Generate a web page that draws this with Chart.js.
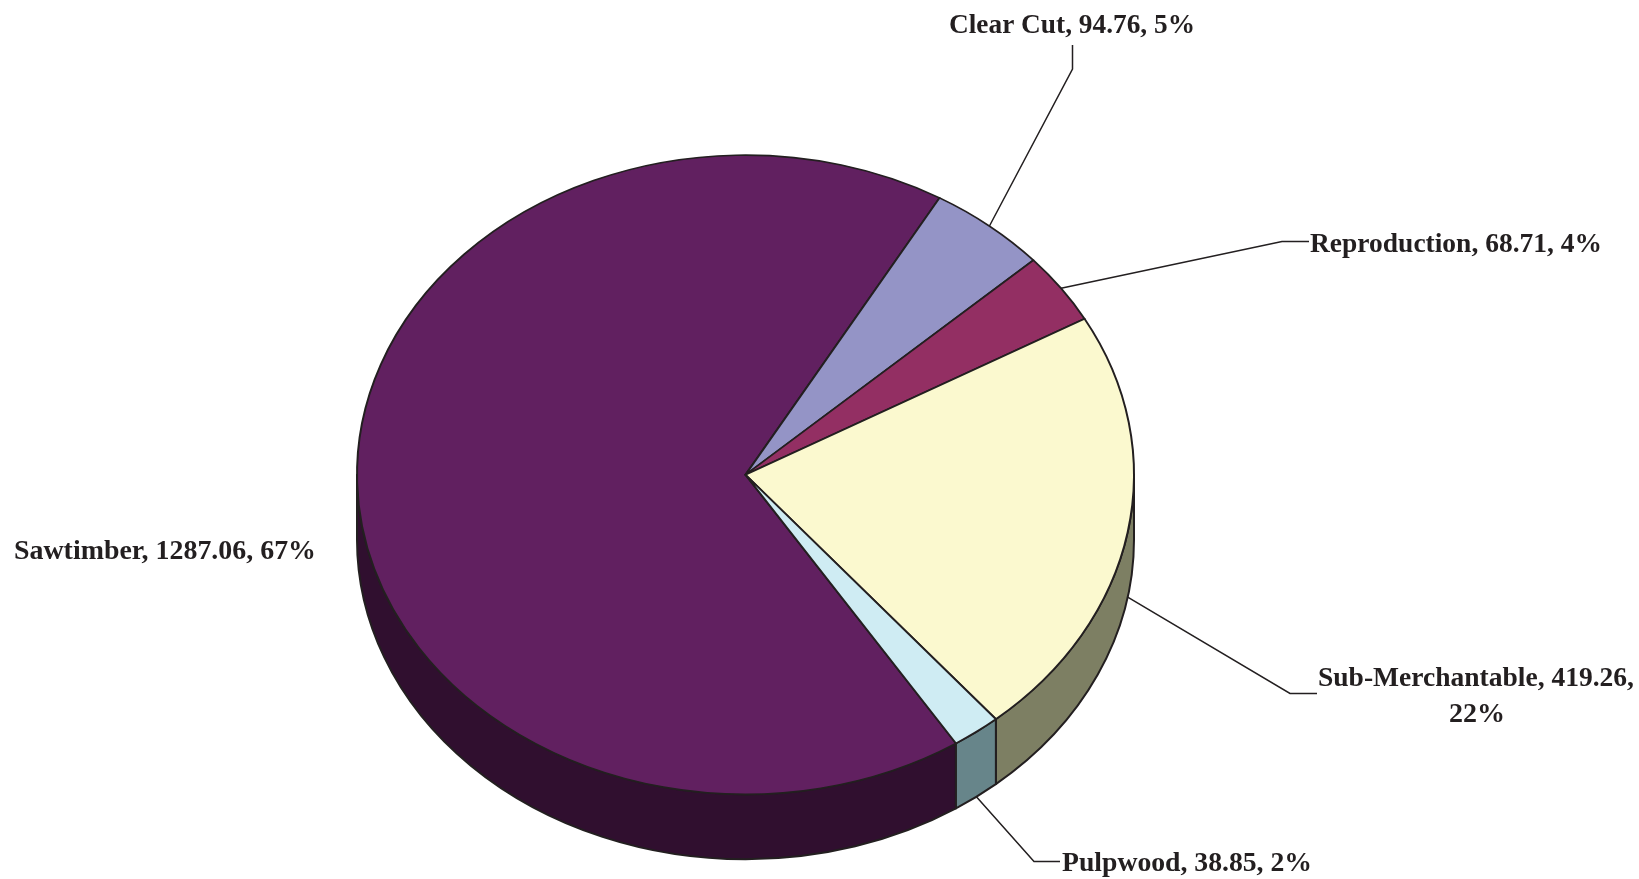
<!DOCTYPE html>
<html lang="en">
<head>
  <meta charset="UTF-8">
  <title>Forest Type Acreage</title>
  <script src="https://cdn.jsdelivr.net/npm/chart.js"></script>
  <style>
    html, body { margin: 0; padding: 0; background: #fff; overflow: hidden; }
    canvas { display: block; }
  </style>
</head>
<body>
  <canvas id="pie" width="1639" height="879"></canvas>
  <script>
    const categories = ['Sawtimber', 'Clear Cut', 'Reproduction', 'Sub-Merchantable', 'Pulpwood'];
    const acres = [1287.06, 94.76, 68.71, 419.26, 38.85];

    const topColors = ['#612060', '#9494c6', '#932f63', '#fbf9cf', '#cfecf3'];
    const wallColors = ['#300f2f', '#4a4a63', '#491731', '#7d7f63', '#67858a'];
    const inkColor = '#231f20';

    // look of the tilted pie
    const squash = 320 / 389;
    const depth = 65;
    const labelFont = 'bold 28px "Liberation Serif"';

    // where each label goes: left edge, baseline, width of the line, elbow of the leader
    const labelSpots = [
      { x: 14, y: 559, w: 302 },
      { x: 949, y: 33, w: 246, elbow: [[1072.5, 69], [1072.5, 45]] },
      { x: 1310, y: 252, w: 292, elbow: [[1282, 241.5], [1309, 241.5]] },
      { x: 1318, y: 686, w: 316, elbow: [[1290, 693.5], [1317, 693.5]], wrap: { x: 1477, y: 722 } },
      { x: 1062, y: 871, w: 250, elbow: [[1034, 861.5], [1060, 861.5]] }
    ];

    const total = acres.reduce((sum, val) => sum + val, 0);

    function fitText(ctx, text, x, y, width) {
      const natural = ctx.measureText(text).width;
      if (natural > width) {
        ctx.fillText(text, x, y, width);
      } else {
        ctx.letterSpacing = ((width - natural) / (text.length - 1)) + 'px';
        ctx.fillText(text, x, y);
        ctx.letterSpacing = '0px';
      }
    }

    const tiltedPie = {
      id: 'tiltedPie',
      beforeDatasetsDraw(chart) {
        // side wall of the pie, only the front half can be seen
        const ctx = chart.ctx;
        const arcs = chart.getDatasetMeta(0).data;
        ctx.save();
        ctx.lineWidth = 2;
        ctx.strokeStyle = inkColor;
        ctx.lineJoin = 'round';
        arcs.forEach((arc, i) => {
          [-2 * Math.PI, 0, 2 * Math.PI].forEach(shift => {
            const a = Math.max(arc.startAngle + shift, 0);
            const b = Math.min(arc.endAngle + shift, Math.PI);
            if (b <= a) return;
            const rx = arc.outerRadius;
            const ry = rx * squash;
            ctx.beginPath();
            ctx.ellipse(arc.x, arc.y, rx, ry, 0, a, b);
            ctx.ellipse(arc.x, arc.y + depth, rx, ry, 0, b, a, true);
            ctx.closePath();
            ctx.fillStyle = wallColors[i];
            ctx.fill();
            ctx.stroke();
          });
        });
        ctx.restore();
      },
      beforeDatasetDraw(chart) {
        const arc = chart.getDatasetMeta(0).data[0];
        chart.ctx.save();
        chart.ctx.translate(arc.x, arc.y);
        chart.ctx.scale(1, squash);
        chart.ctx.translate(-arc.x, -arc.y);
      },
      afterDatasetDraw(chart) {
        chart.ctx.restore();
      },
      afterDraw(chart) {
        const ctx = chart.ctx;
        const arcs = chart.getDatasetMeta(0).data;
        ctx.save();
        ctx.font = labelFont;
        ctx.fillStyle = inkColor;
        ctx.strokeStyle = inkColor;
        ctx.lineWidth = 1.5;
        ctx.textBaseline = 'alphabetic';
        arcs.forEach((arc, i) => {
          const spot = labelSpots[i];
          const pct = Math.round(acres[i] / total * 100) + '%';
          const head = categories[i] + ', ' + acres[i].toFixed(2) + ',';

          if (spot.elbow) {
            // leader starts on the rim at the middle of the slice
            const mid = (arc.startAngle + arc.endAngle) / 2;
            const startX = arc.x + arc.outerRadius * Math.cos(mid);
            let startY = arc.y + arc.outerRadius * squash * Math.sin(mid);
            if (Math.sin(mid) > 0) startY += depth;
            ctx.beginPath();
            ctx.moveTo(startX, startY);
            spot.elbow.forEach(p => ctx.lineTo(p[0], p[1]));
            ctx.stroke();
          }

          if (spot.wrap) {
            fitText(ctx, head, spot.x, spot.y, spot.w);
            ctx.textAlign = 'center';
            ctx.fillText(pct, spot.wrap.x, spot.wrap.y);
            ctx.textAlign = 'left';
          } else {
            fitText(ctx, head + ' ' + pct, spot.x, spot.y, spot.w);
          }
        });
        ctx.restore();
      }
    };

    new Chart(document.getElementById('pie'), {
      type: 'pie',
      data: {
        labels: categories,
        datasets: [{
          data: acres,
          backgroundColor: topColors,
          borderColor: inkColor,
          borderWidth: 2,
          borderJoinStyle: 'round',
          clip: false
        }]
      },
      options: {
        responsive: false,
        animation: false,
        rotation: 147.2,
        layout: { padding: { left: 356, right: 504, top: 85, bottom: 14.5 } },
        plugins: {
          legend: { display: false },
          tooltip: { enabled: false }
        }
      },
      plugins: [tiltedPie]
    });
  </script>
</body>
</html>
